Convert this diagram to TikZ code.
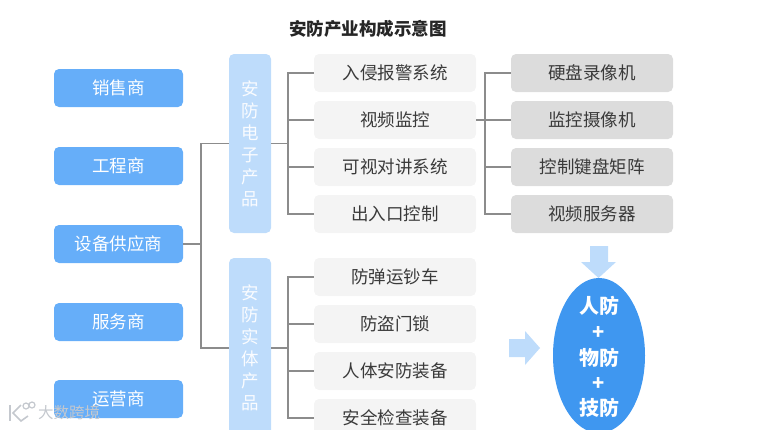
\documentclass[tikz,border=0pt]{standalone}
\usepackage{fontspec}
\setmainfont{Noto Sans CJK SC}
\usetikzlibrary{shapes.geometric}
\definecolor{bluebox}{HTML}{66AEF9}
\definecolor{paleblue}{HTML}{BEDCFB}
\definecolor{midgray}{HTML}{F4F4F4}
\definecolor{darkgray}{HTML}{DCDCDC}
\definecolor{ovalblue}{HTML}{3F97F0}
\definecolor{linkgray}{HTML}{8C8C8C}
\definecolor{txtgray}{HTML}{3A3A3A}
\definecolor{markgray}{HTML}{C4C8CE}
\tikzset{
	base/.style={inner sep=0pt, rounded corners=5pt, font=\fontsize{17.5}{22}\selectfont},
	sellerbox/.style={base, fill=bluebox, text=white, minimum width=129pt, minimum height=38pt},
	groupbox/.style={base, fill=paleblue, text=white!92!paleblue, minimum width=42pt, align=center},
	itembox/.style={base, fill=midgray, text=txtgray, minimum width=162pt, minimum height=38pt},
	partbox/.style={base, fill=darkgray, text=txtgray, minimum width=162pt, minimum height=38pt},
	ovaltext/.style={font=\fontsize{20}{25}\selectfont\bfseries, text=white},
	link/.style={draw=linkgray, line width=1.4pt},
	bigarrow/.style={fill=paleblue, draw=none}
}
\begin{document}
\begin{tikzpicture}[x=1pt, y=-1pt, line join=miter]
	\useasboundingbox (0,0) rectangle (762,429);
	\clip (0,0) rectangle (762,429);

	% Title
	\node[font=\fontsize{17.5}{22}\selectfont\bfseries, text=black!85] (title) at (368,29) {安防产业构成示意图};

	% Left column
	\foreach \name/\yy/\txt in {sales/88/销售商, engineer/166/工程商, supplier/244/设备供应商, service/322/服务商, operator/399/运营商} {
		\node[sellerbox] (\name) at (118.5,\yy) {\txt};
	}

	% The two product groups
	\node[groupbox, minimum height=179pt] (elec) at (250,143.5) {安\\防\\电\\子\\产\\品};
	\node[groupbox, minimum height=180pt] (solid) at (250,348) {安\\防\\实\\体\\产\\品};

	% Middle column
	\foreach \name/\yy/\txt in {intrude/73/入侵报警系统, video/120/视频监控, intercom/167/可视对讲系统, access/214/出入口控制, truck/277/防弹运钞车, lock/324/防盗门锁, gear/371/人体安防装备, check/418/安全检查装备} {
		\node[itembox] (\name) at (395,\yy) {\txt};
	}

	% Right column
	\foreach \name/\yy/\txt in {disk/73/硬盘录像机, camera/120/监控摄像机, keyboard/167/控制键盘矩阵, server/214/视频服务器} {
		\node[partbox] (\name) at (592,\yy) {\txt};
	}

	% Connector trunks
	\coordinate (leftbus) at (201,244);
	\coordinate (elecbus) at (288,143.5);
	\coordinate (solidbus) at (288,348);
	\coordinate (videobus) at (485,120);

	\draw[link] (supplier.east) -- (leftbus);
	\draw[link] (elec.west) -| (leftbus) |- (solid.west);

	\draw[link] (elec.east) -- (elecbus);
	\foreach \name in {intrude, video, intercom, access} {
		\draw[link] (elecbus) |- (\name.west);
	}
	\draw[link] (solid.east) -- (solidbus);
	\foreach \name in {truck, lock, gear, check} {
		\draw[link] (solidbus) |- (\name.west);
	}
	\draw[link] (video.east) -- (videobus);
	\foreach \name in {disk, camera, keyboard, server} {
		\draw[link] (videobus) |- (\name.west);
	}

	% Block arrows
	\fill[bigarrow] (590,246)--(608,246)--(608,262)--(616,262)--(598.5,278)--(581,262)--(590,262)--cycle;
	\fill[bigarrow] (509,339)--(525,339)--(525,331)--(540,348)--(525,365)--(525,357)--(509,357)--cycle;

	% Oval
	\node[ellipse, fill=ovalblue, inner sep=0pt, minimum width=92pt, minimum height=155pt] (oval) at (599,355.5) {};
	\node[ovaltext] (human) at (599,306) {人防};
	\node[ovaltext] (plusa) at (599,333) {+};
	\node[ovaltext] (thing) at (599,358) {物防};
	\node[ovaltext] (plusb) at (599,384) {+};
	\node[ovaltext] (tech) at (599,408) {技防};

	% Watermark
	\node[font=\fontsize{15.5}{18}\selectfont, text=markgray] (mark) at (69,413) {大数跨境};
	\draw[markgray, line width=1.6pt] (10,405)--(10,421);
	\draw[markgray, line width=1.6pt] (21,405)--(13,413)--(21,421)--(28,416);
	\draw[markgray, line width=1.2pt] (26,406) circle (3pt) (32,405) circle (3pt);
\end{tikzpicture}
\end{document}
